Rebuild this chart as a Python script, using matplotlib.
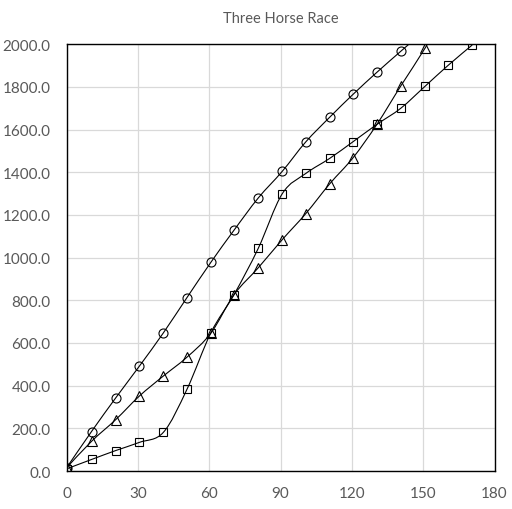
import numpy as np
import matplotlib
matplotlib.use("Agg")
import matplotlib.pyplot as plt
from matplotlib.path import Path
from matplotlib.patches import PathPatch

# time grid and the three horses
x_vals = [0, 10.5, 20.7, 30.6, 40.7, 50.6, 60.7, 70.4, 80.6, 90.7, 100.6, 110.7,
          120.5, 130.5, 140.6, 150.8, 160.5, 170.6]
circle_y = [15, 185, 343, 491, 647, 812, 978, 1128, 1279, 1404, 1542, 1658,
            1765, 1868, 1967, 2066]
triangle_y = [15, 139, 241, 351, 445, 533, 646, 826, 952, 1084, 1206, 1346,
              1468, 1624, 1805, 1982, 2170]
square_y = [10, 54, 96, 134, 181, 382, 648, 826, 1043, 1299, 1394, 1465,
            1543, 1624, 1700, 1803, 1901, 1996]

GREY = '#595959'
plt.rcParams['font.family'] = ['Lato', 'DejaVu Sans']


def smooth_path(xs, ys):
    # excel style smoothed line as cubic bezier segments
    p = np.column_stack([xs, ys]).astype(float)
    n = len(p)
    verts = [p[0]]
    codes = [Path.MOVETO]
    for i in range(n - 1):
        p0 = p[i - 1] if i > 0 else p[i]
        p1 = p[i]
        p2 = p[i + 1]
        p3 = p[i + 2] if i + 2 < n else p[i + 1]
        c1 = p1 + (p2 - p0) / 6.0
        c2 = p2 - (p3 - p1) / 6.0
        verts += [c1, c2, p2]
        codes += [Path.CURVE4] * 3
    return Path(verts, codes)


fig = plt.figure(figsize=(5.12, 5.10), dpi=100)
ax = fig.add_axes([0.130, 0.0745, 0.836, 0.837])

series = [(circle_y, 'o', 6.5), (triangle_y, '^', 6.5), (square_y, 's', 5.5)]
for ys, mk, ms in series:
    xs = x_vals[:len(ys)]
    ax.add_patch(PathPatch(smooth_path(xs, ys), facecolor='none',
                           edgecolor='black', lw=0.8, zorder=3))
    ax.plot(xs, ys, linestyle='none', marker=mk, markersize=ms,
            markerfacecolor='none', markeredgecolor='black',
            markeredgewidth=0.8, zorder=4)

ax.set_xlim(0, 180)
ax.set_ylim(0, 2000)
ax.set_xticks(range(0, 181, 30))
ax.set_yticks(range(0, 2001, 200))
ax.set_yticklabels(['%.1f' % v for v in range(0, 2001, 200)])
ax.grid(True, color='#d9d9d9', lw=0.9)
ax.set_axisbelow(True)
for s in ax.spines.values():
    s.set_color('black')
    s.set_linewidth(1.0)
ax.tick_params(length=0, labelsize=11, colors=GREY)
ax.tick_params(axis='y', pad=11.5)
ax.tick_params(axis='x', pad=10.5)
ax.set_title('Three Horse Race', fontsize=10.5, color=GREY, pad=16)

plt.savefig('out.png', dpi=100)
